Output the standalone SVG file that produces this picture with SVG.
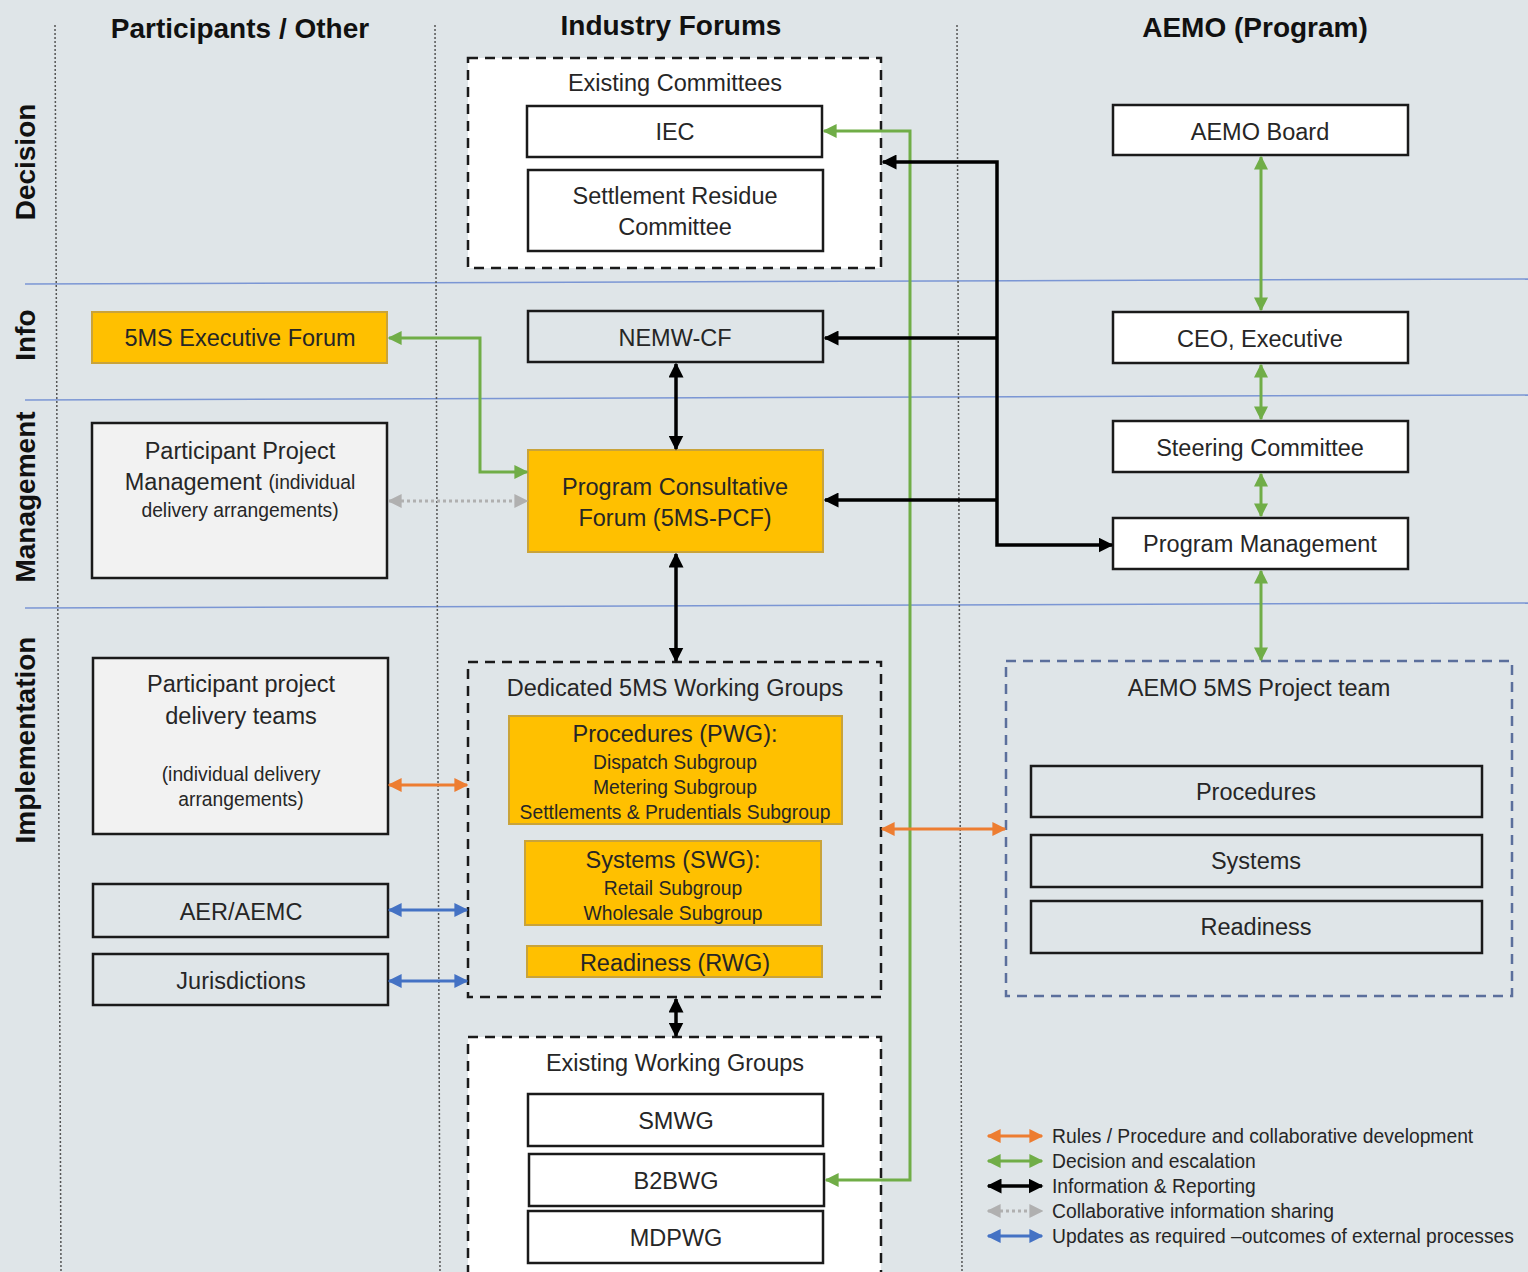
<svg xmlns="http://www.w3.org/2000/svg" width="1528" height="1272" viewBox="0 0 1528 1272">
<defs>
<style>
text{font-family:"Liberation Sans",Arial,sans-serif;fill:#262626;text-anchor:middle;dominant-baseline:central}
.h{font-weight:bold;font-size:28px;fill:#111}
.r{font-weight:bold;font-size:28px;fill:#111}
.t{font-size:23.5px}
.s{font-size:19.3px}
.lg{font-size:19.3px;text-anchor:start}
.box{fill:#fff;stroke:#1a1a1a;stroke-width:2.5}
.clr{fill:none;stroke:#1a1a1a;stroke-width:2.5}
.gry{fill:#f2f2f2;stroke:#1a1a1a;stroke-width:2.5}
.yel{fill:#ffc000;stroke:#c9a33a;stroke-width:2}
.dash{stroke:#1a1a1a;stroke-width:2.5;stroke-dasharray:10 7}
.lane{stroke:#7b96d4;stroke-width:1.5;fill:none}
.vd{stroke:#555;stroke-width:1.5;stroke-dasharray:2 2;fill:none}
.g{stroke:#70ad47;stroke-width:3;fill:none}
.k{stroke:#000;stroke-width:3.5;fill:none}
.o{stroke:#ed7d31;stroke-width:3;fill:none}
.b{stroke:#4472c4;stroke-width:3;fill:none}
.d{stroke:#b0b0b0;stroke-width:3;stroke-dasharray:3 3;fill:none}
</style>
<marker id="ag" viewBox="0 0 10 10" refX="9" refY="5" markerUnits="userSpaceOnUse" markerWidth="14" markerHeight="14" orient="auto-start-reverse"><path d="M0,0L10,5L0,10z" fill="#70ad47"/></marker>
<marker id="ak" viewBox="0 0 10 10" refX="9" refY="5" markerUnits="userSpaceOnUse" markerWidth="15" markerHeight="15" orient="auto-start-reverse"><path d="M0,0L10,5L0,10z" fill="#000"/></marker>
<marker id="ao" viewBox="0 0 10 10" refX="9" refY="5" markerUnits="userSpaceOnUse" markerWidth="14" markerHeight="14" orient="auto-start-reverse"><path d="M0,0L10,5L0,10z" fill="#ed7d31"/></marker>
<marker id="ab" viewBox="0 0 10 10" refX="9" refY="5" markerUnits="userSpaceOnUse" markerWidth="14" markerHeight="14" orient="auto-start-reverse"><path d="M0,0L10,5L0,10z" fill="#4472c4"/></marker>
<marker id="ad" viewBox="0 0 10 10" refX="9" refY="5" markerUnits="userSpaceOnUse" markerWidth="14" markerHeight="14" orient="auto-start-reverse"><path d="M0,0L10,5L0,10z" fill="#b0b0b0"/></marker>
</defs>
<rect x="0" y="0" width="1528" height="1272" fill="#dfe5e8"/>

<g id="lanes">
<path class="lane" d="M25 284 L1528 279"/>
<path class="lane" d="M25 400 L1528 395"/>
<path class="lane" d="M25 608 L1528 603"/>
<path class="vd" d="M55 25 L61 1272"/>
<path class="vd" d="M435 25 L440 1272"/>
<path class="vd" d="M957 25 L962 1272"/>
</g>

<g id="headings">
<text class="h" x="240" y="28">Participants / Other</text>
<text class="h" x="671" y="25">Industry Forums</text>
<text class="h" x="1255" y="27">AEMO (Program)</text>
<text class="r" transform="translate(25,162) rotate(-90)">Decision</text>
<text class="r" transform="translate(25,335) rotate(-90)">Info</text>
<text class="r" transform="translate(25,497) rotate(-90)">Management</text>
<text class="r" transform="translate(25,740) rotate(-90)">Implementation</text>
</g>

<g id="existing-committees">
<rect x="468" y="58" width="413" height="210" fill="#fff" class="dash"/>
<text class="t" x="675" y="83">Existing Committees</text>
</g>
<g id="iec"><rect class="box" x="527" y="106" width="295" height="51"/><text class="t" x="675" y="132">IEC</text></g>
<g id="src"><rect class="box" x="528" y="170" width="295" height="81"/><text class="t" x="675" y="196">Settlement Residue</text><text class="t" x="675" y="227">Committee</text></g>
<g id="nemw-cf"><rect class="clr" x="528" y="311" width="295" height="51"/><text class="t" x="675" y="338">NEMW-CF</text></g>
<g id="exec-forum"><rect class="yel" x="92" y="312" width="295" height="51"/><text class="t" x="240" y="338">5MS Executive Forum</text></g>
<g id="pcf"><rect class="yel" x="528" y="450" width="295" height="102"/><text class="t" x="675" y="487">Program Consultative</text><text class="t" x="675" y="518">Forum (5MS-PCF)</text></g>
<g id="ppm"><rect class="gry" x="92" y="423" width="295" height="155"/><text class="t" x="240" y="451">Participant Project</text><text x="240" y="482"><tspan class="t">Management </tspan><tspan class="s">(individual</tspan></text><text class="s" x="240" y="510">delivery arrangements)</text></g>
<g id="ppdt"><rect class="gry" x="93" y="658" width="295" height="176"/><text class="t" x="241" y="684">Participant project</text><text class="t" x="241" y="716">delivery teams</text><text class="s" x="241" y="774">(individual delivery</text><text class="s" x="241" y="799">arrangements)</text></g>
<g id="aer-aemc"><rect class="clr" x="93" y="884" width="295" height="53"/><text class="t" x="241" y="912">AER/AEMC</text></g>
<g id="jurisdictions"><rect class="clr" x="93" y="954" width="295" height="51"/><text class="t" x="241" y="981">Jurisdictions</text></g>

<g id="dedicated-wg">
<rect x="468" y="662" width="413" height="335" fill="none" class="dash"/>
<text class="t" x="675" y="688">Dedicated 5MS Working Groups</text>
</g>
<g id="pwg"><rect class="yel" x="509" y="716" width="333" height="108"/><text class="t" x="675" y="734">Procedures (PWG):</text><text class="s" x="675" y="762">Dispatch Subgroup</text><text class="s" x="675" y="787">Metering Subgroup</text><text class="s" x="675" y="812">Settlements &amp; Prudentials Subgroup</text></g>
<g id="swg"><rect class="yel" x="525" y="841" width="296" height="84"/><text class="t" x="673" y="860">Systems (SWG):</text><text class="s" x="673" y="888">Retail Subgroup</text><text class="s" x="673" y="913">Wholesale Subgroup</text></g>
<g id="rwg"><rect class="yel" x="527" y="946" width="295" height="31"/><text class="t" x="675" y="963">Readiness (RWG)</text></g>

<g id="existing-wg">
<rect x="468" y="1037" width="413" height="250" fill="#fff" class="dash"/>
<text class="t" x="675" y="1063">Existing Working Groups</text>
</g>
<g id="smwg"><rect class="box" x="528" y="1094" width="295" height="52"/><text class="t" x="676" y="1121">SMWG</text></g>
<g id="b2bwg"><rect class="box" x="529" y="1154" width="295" height="52"/><text class="t" x="676" y="1181">B2BWG</text></g>
<g id="mdpwg"><rect class="box" x="528" y="1211" width="295" height="52"/><text class="t" x="676" y="1238">MDPWG</text></g>

<g id="aemo-board"><rect class="box" x="1113" y="105" width="295" height="50"/><text class="t" x="1260" y="132">AEMO Board</text></g>
<g id="ceo"><rect class="box" x="1113" y="312" width="295" height="51"/><text class="t" x="1260" y="339">CEO, Executive</text></g>
<g id="steering"><rect class="box" x="1113" y="421" width="295" height="51"/><text class="t" x="1260" y="448">Steering Committee</text></g>
<g id="program-mgmt"><rect class="box" x="1113" y="518" width="295" height="51"/><text class="t" x="1260" y="544">Program Management</text></g>

<g id="aemo-team">
<rect x="1006" y="661" width="506" height="335" fill="none" stroke="#5b6f9c" stroke-width="2.5" stroke-dasharray="10 7"/>
<text class="t" x="1259" y="688">AEMO 5MS Project team</text>
</g>
<g id="t-procedures"><rect class="clr" x="1031" y="766" width="451" height="51"/><text class="t" x="1256" y="792">Procedures</text></g>
<g id="t-systems"><rect class="clr" x="1031" y="835" width="451" height="52"/><text class="t" x="1256" y="861">Systems</text></g>
<g id="t-readiness"><rect class="clr" x="1031" y="901" width="451" height="52"/><text class="t" x="1256" y="927">Readiness</text></g>

<g id="connectors">
<path class="g" d="M824 131 H910 V1180 H826" marker-start="url(#ag)" marker-end="url(#ag)"/>
<path class="g" d="M389 338 H480 V472 H527" marker-start="url(#ag)" marker-end="url(#ag)"/>
<path class="k" d="M883 162 H997 V545 H1112" marker-start="url(#ak)" marker-end="url(#ak)"/>
<path class="k" d="M997 338 H825" marker-end="url(#ak)"/>
<path class="k" d="M997 500 H825" marker-end="url(#ak)"/>
<path class="k" d="M676 364 V449" marker-start="url(#ak)" marker-end="url(#ak)"/>
<path class="k" d="M676 554 V661" marker-start="url(#ak)" marker-end="url(#ak)"/>
<path class="k" d="M676 999 V1036" marker-start="url(#ak)" marker-end="url(#ak)"/>
<path class="d" d="M389 501 H527" marker-start="url(#ad)" marker-end="url(#ad)"/>
<path class="o" d="M389 785 H467" marker-start="url(#ao)" marker-end="url(#ao)"/>
<path class="o" d="M882 829 H1005" marker-start="url(#ao)" marker-end="url(#ao)"/>
<path class="b" d="M389 910 H467" marker-start="url(#ab)" marker-end="url(#ab)"/>
<path class="b" d="M389 981 H467" marker-start="url(#ab)" marker-end="url(#ab)"/>
<path class="g" d="M1261 157 V310" marker-start="url(#ag)" marker-end="url(#ag)"/>
<path class="g" d="M1261 365 V419" marker-start="url(#ag)" marker-end="url(#ag)"/>
<path class="g" d="M1261 474 V516" marker-start="url(#ag)" marker-end="url(#ag)"/>
<path class="g" d="M1261 571 V660" marker-start="url(#ag)" marker-end="url(#ag)"/>
</g>

<g id="legend">
<path class="o" d="M988 1136 H1042" marker-start="url(#ao)" marker-end="url(#ao)"/>
<path class="g" d="M988 1161 H1042" marker-start="url(#ag)" marker-end="url(#ag)"/>
<path class="k" d="M988 1186 H1042" marker-start="url(#ak)" marker-end="url(#ak)"/>
<path class="d" d="M988 1211 H1042" marker-start="url(#ad)" marker-end="url(#ad)"/>
<path class="b" d="M988 1236 H1042" marker-start="url(#ab)" marker-end="url(#ab)"/>
<text class="lg" x="1052" y="1136">Rules / Procedure and collaborative development</text>
<text class="lg" x="1052" y="1161">Decision and escalation</text>
<text class="lg" x="1052" y="1186">Information &amp; Reporting</text>
<text class="lg" x="1052" y="1211">Collaborative information sharing</text>
<text class="lg" x="1052" y="1236">Updates as required –outcomes of external processes</text>
</g>
</svg>
